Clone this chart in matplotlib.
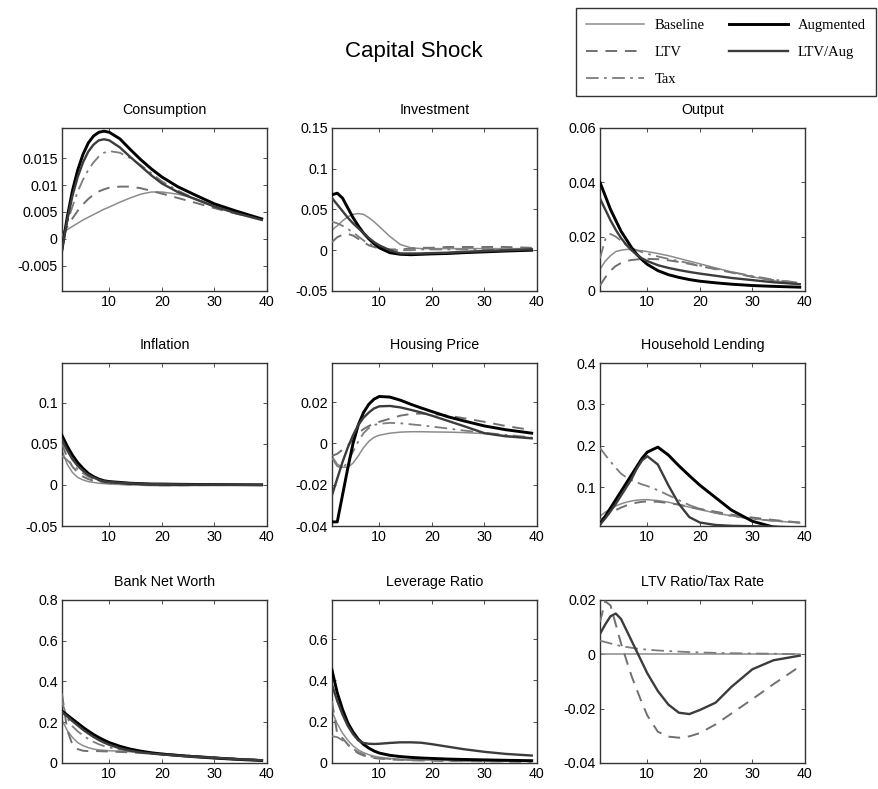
import matplotlib
matplotlib.use('Agg')
import matplotlib.pyplot as plt
from matplotlib.ticker import FuncFormatter

plt.rcParams['font.family'] = ['Liberation Sans', 'DejaVu Sans']
plt.rcParams['axes.unicode_minus'] = False

T = [1, 2, 3, 4, 5, 6, 7, 8, 9, 10, 12, 14, 16, 18, 20, 23, 26, 30, 34, 39]

# Consumption
cons_base = [0.0012, 0.0017, 0.0023, 0.0029, 0.0035, 0.0040, 0.0045, 0.0050, 0.0055, 0.0059, 0.0068, 0.0076, 0.0083, 0.0087, 0.0087, 0.0083, 0.0076, 0.0062, 0.0050, 0.0036]
cons_ltv = [0.0005, 0.0022, 0.0038, 0.0052, 0.0064, 0.0074, 0.0082, 0.0088, 0.0092, 0.0095, 0.0097, 0.0097, 0.0094, 0.0089, 0.0084, 0.0076, 0.0068, 0.0057, 0.0047, 0.0036]
cons_tax = [0.0000, 0.0030, 0.0060, 0.0088, 0.0110, 0.0128, 0.0142, 0.0153, 0.0160, 0.0163, 0.0160, 0.0150, 0.0137, 0.0122, 0.0107, 0.0090, 0.0076, 0.0060, 0.0048, 0.0036]
cons_aug = [-0.0020, 0.0040, 0.0090, 0.0128, 0.0157, 0.0178, 0.0191, 0.0198, 0.0200, 0.0198, 0.0186, 0.0166, 0.0147, 0.0130, 0.0115, 0.0097, 0.0083, 0.0065, 0.0052, 0.0037]
cons_ltvaug = [-0.0020, 0.0035, 0.0080, 0.0115, 0.0142, 0.0162, 0.0175, 0.0183, 0.0185, 0.0183, 0.0170, 0.0152, 0.0135, 0.0118, 0.0103, 0.0087, 0.0075, 0.0060, 0.0048, 0.0035]

# Investment
inv_base = [0.025, 0.030, 0.036, 0.041, 0.044, 0.045, 0.044, 0.040, 0.035, 0.029, 0.017, 0.007, 0.003, 0.002, 0.002, 0.002, 0.002, 0.002, 0.002, 0.002]
inv_ltv = [0.010, 0.016, 0.019, 0.020, 0.018, 0.014, 0.010, 0.006, 0.004, 0.002, 0.001, 0.001, 0.002, 0.003, 0.003, 0.004, 0.004, 0.004, 0.004, 0.003]
inv_tax = [0.035, 0.033, 0.030, 0.026, 0.022, 0.017, 0.012, 0.008, 0.005, 0.003, 0.001, 0.000, 0.000, 0.001, 0.001, 0.001, 0.001, 0.001, 0.001, 0.001]
inv_aug = [0.068, 0.070, 0.064, 0.052, 0.040, 0.030, 0.021, 0.014, 0.008, 0.003, -0.003, -0.005, -0.0055, -0.005, -0.0045, -0.004, -0.003, -0.002, -0.001, 0.000]
inv_ltvaug = [0.064, 0.056, 0.048, 0.040, 0.033, 0.027, 0.021, 0.015, 0.010, 0.006, 0.000, -0.004, -0.004, -0.004, -0.0035, -0.003, -0.002, -0.001, 0.000, 0.001]

# Output
out_base = [0.0080, 0.0110, 0.0130, 0.0145, 0.0150, 0.0153, 0.0153, 0.0150, 0.0148, 0.0145, 0.0138, 0.0130, 0.0120, 0.0110, 0.0100, 0.0085, 0.0070, 0.0052, 0.0038, 0.0026]
out_ltv = [0.0020, 0.0050, 0.0075, 0.0092, 0.0103, 0.0110, 0.0114, 0.0116, 0.0118, 0.0118, 0.0117, 0.0113, 0.0107, 0.0100, 0.0092, 0.0080, 0.0068, 0.0052, 0.0040, 0.0030]
out_tax = [0.0120, 0.0190, 0.0210, 0.0200, 0.0185, 0.0170, 0.0158, 0.0150, 0.0143, 0.0137, 0.0127, 0.0118, 0.0110, 0.0102, 0.0094, 0.0082, 0.0070, 0.0055, 0.0042, 0.0030]
out_aug = [0.0400, 0.0350, 0.0300, 0.0260, 0.0220, 0.0190, 0.0160, 0.0135, 0.0115, 0.0098, 0.0075, 0.0060, 0.0050, 0.0042, 0.0036, 0.0030, 0.0025, 0.0020, 0.0017, 0.0014]
out_ltvaug = [0.0340, 0.0300, 0.0260, 0.0225, 0.0195, 0.0170, 0.0150, 0.0133, 0.0120, 0.0110, 0.0095, 0.0085, 0.0077, 0.0070, 0.0064, 0.0056, 0.0048, 0.0040, 0.0032, 0.0025]

# Inflation
infl_base = [0.042, 0.025, 0.015, 0.009, 0.006, 0.004, 0.003, 0.002, 0.0015, 0.001, 0.0005, 0.0, -0.0005, -0.0008, -0.001, -0.001, -0.0008, -0.0006, -0.0004, -0.0002]
infl_ltv = [0.050, 0.033, 0.022, 0.015, 0.010, 0.007, 0.005, 0.0035, 0.0025, 0.002, 0.001, 0.0005, 0.0, -0.0003, -0.0005, -0.0005, -0.0004, -0.0003, -0.0002, -0.0001]
infl_tax = [0.035, 0.030, 0.024, 0.019, 0.014, 0.010, 0.007, 0.005, 0.0038, 0.003, 0.002, 0.0013, 0.0009, 0.0006, 0.0004, 0.0002, 0.0001, 0.0, 0.0, 0.0]
infl_aug = [0.060, 0.047, 0.036, 0.027, 0.020, 0.014, 0.010, 0.007, 0.005, 0.004, 0.003, 0.002, 0.0015, 0.001, 0.001, 0.0007, 0.0005, 0.0003, 0.0002, 0.0]
infl_ltvaug = [0.055, 0.042, 0.031, 0.023, 0.017, 0.012, 0.009, 0.006, 0.0045, 0.0035, 0.0025, 0.0018, 0.0013, 0.001, 0.0008, 0.0005, 0.0003, 0.0002, 0.0001, 0.0]

# Housing price
hp_base = [-0.006, -0.010, -0.0115, -0.0115, -0.0095, -0.006, -0.002, 0.001, 0.003, 0.004, 0.005, 0.0055, 0.0057, 0.0057, 0.0056, 0.0055, 0.0053, 0.0048, 0.0038, 0.0027]
hp_ltv = [-0.006, -0.005, -0.003, -0.001, 0.002, 0.005, 0.007, 0.0085, 0.0095, 0.0105, 0.012, 0.0135, 0.0143, 0.0145, 0.0143, 0.0135, 0.0123, 0.0105, 0.0085, 0.0065]
hp_tax = [-0.007, -0.011, -0.012, -0.009, -0.004, 0.001, 0.005, 0.0075, 0.009, 0.0095, 0.010, 0.0098, 0.0093, 0.0088, 0.0082, 0.0073, 0.0063, 0.0052, 0.0042, 0.0030]
hp_aug = [-0.038, -0.038, -0.025, -0.012, 0.000, 0.009, 0.015, 0.019, 0.0215, 0.0228, 0.0225, 0.021, 0.019, 0.0172, 0.0155, 0.013, 0.011, 0.0085, 0.0067, 0.0050]
hp_ltvaug = [-0.025, -0.017, -0.009, -0.002, 0.004, 0.009, 0.0125, 0.015, 0.017, 0.018, 0.0182, 0.0175, 0.0163, 0.015, 0.0135, 0.011, 0.0085, 0.0050, 0.0035, 0.0025]

# Household lending
hl_base = [0.030, 0.040, 0.048, 0.055, 0.060, 0.064, 0.067, 0.069, 0.070, 0.070, 0.068, 0.064, 0.058, 0.052, 0.046, 0.038, 0.031, 0.024, 0.019, 0.014]
hl_ltv = [0.020, 0.030, 0.038, 0.045, 0.051, 0.056, 0.060, 0.063, 0.065, 0.066, 0.065, 0.062, 0.058, 0.053, 0.048, 0.041, 0.034, 0.027, 0.021, 0.015]
hl_tax = [0.195, 0.178, 0.162, 0.147, 0.133, 0.124, 0.117, 0.112, 0.107, 0.103, 0.093, 0.081, 0.069, 0.057, 0.048, 0.038, 0.031, 0.024, 0.019, 0.015]
hl_aug = [0.012, 0.030, 0.050, 0.070, 0.090, 0.110, 0.130, 0.150, 0.170, 0.185, 0.197, 0.178, 0.152, 0.128, 0.105, 0.075, 0.045, 0.018, 0.004, 0.000]
hl_ltvaug = [0.010, 0.025, 0.042, 0.060, 0.080, 0.100, 0.120, 0.145, 0.165, 0.175, 0.155, 0.105, 0.060, 0.028, 0.015, 0.009, 0.007, 0.006, 0.005, 0.003]

# Bank net worth
bnw_base = [0.21, 0.16, 0.125, 0.10, 0.085, 0.075, 0.068, 0.064, 0.062, 0.060, 0.058, 0.055, 0.052, 0.049, 0.046, 0.040, 0.035, 0.028, 0.021, 0.014]
bnw_ltv = [0.34, 0.16, 0.09, 0.068, 0.060, 0.058, 0.058, 0.058, 0.057, 0.056, 0.054, 0.052, 0.049, 0.046, 0.043, 0.038, 0.033, 0.027, 0.021, 0.014]
bnw_tax = [0.30, 0.22, 0.18, 0.155, 0.135, 0.118, 0.104, 0.092, 0.083, 0.076, 0.066, 0.060, 0.055, 0.050, 0.046, 0.040, 0.035, 0.028, 0.021, 0.014]
bnw_aug = [0.255, 0.235, 0.215, 0.195, 0.175, 0.157, 0.140, 0.125, 0.112, 0.100, 0.082, 0.068, 0.058, 0.050, 0.044, 0.037, 0.031, 0.024, 0.018, 0.012]
bnw_ltvaug = [0.250, 0.228, 0.205, 0.184, 0.163, 0.145, 0.128, 0.113, 0.100, 0.089, 0.072, 0.060, 0.052, 0.046, 0.042, 0.036, 0.031, 0.025, 0.019, 0.013]

# Leverage ratio
lev_base = [0.25, 0.19, 0.145, 0.11, 0.083, 0.063, 0.050, 0.040, 0.033, 0.028, 0.022, 0.018, 0.016, 0.014, 0.013, 0.012, 0.011, 0.010, 0.009, 0.008]
lev_ltv = [0.30, 0.14, 0.12, 0.09, 0.065, 0.047, 0.036, 0.029, 0.024, 0.021, 0.017, 0.015, 0.013, 0.012, 0.011, 0.010, 0.009, 0.008, 0.007, 0.006]
lev_tax = [0.13, 0.125, 0.11, 0.088, 0.068, 0.053, 0.042, 0.034, 0.028, 0.024, 0.019, 0.016, 0.014, 0.013, 0.012, 0.011, 0.010, 0.009, 0.008, 0.007]
lev_aug = [0.45, 0.34, 0.26, 0.195, 0.15, 0.115, 0.090, 0.072, 0.058, 0.048, 0.037, 0.031, 0.027, 0.024, 0.022, 0.019, 0.017, 0.015, 0.013, 0.011]
lev_ltvaug = [0.38, 0.30, 0.235, 0.18, 0.14, 0.11, 0.097, 0.093, 0.092, 0.093, 0.097, 0.100, 0.100, 0.098, 0.091, 0.079, 0.067, 0.054, 0.044, 0.036]

# LTV ratio / tax rate (no Augmented line in this panel)
lr_base = [0.0, 0.0, 0.0, 0.0, 0.0, 0.0, 0.0, 0.0, 0.0, 0.0, 0.0, 0.0, 0.0, 0.0, 0.0, 0.0, 0.0, 0.0, 0.0, 0.0]
lr_ltv = [0.012, 0.0195, 0.018, 0.011, 0.004, -0.002, -0.008, -0.013, -0.018, -0.0225, -0.0285, -0.0303, -0.0307, -0.0302, -0.029, -0.0258, -0.0218, -0.0165, -0.011, -0.0045]
lr_tax = [0.005, 0.0045, 0.004, 0.0035, 0.003, 0.0027, 0.0024, 0.0021, 0.0019, 0.0017, 0.0014, 0.0012, 0.001, 0.0008, 0.0007, 0.0005, 0.0004, 0.0003, 0.0002, 0.0]
lr_aug = None
lr_ltvaug = [0.0075, 0.011, 0.014, 0.015, 0.013, 0.009, 0.005, 0.001, -0.003, -0.007, -0.0135, -0.0185, -0.0215, -0.022, -0.0205, -0.0178, -0.012, -0.0055, -0.0022, -0.0005]

titles = ['Consumption', 'Investment', 'Output',
          'Inflation', 'Housing Price', 'Household Lending',
          'Bank Net Worth', 'Leverage Ratio', 'LTV Ratio/Tax Rate']
panels = [
    (cons_base, cons_ltv, cons_tax, cons_aug, cons_ltvaug),
    (inv_base, inv_ltv, inv_tax, inv_aug, inv_ltvaug),
    (out_base, out_ltv, out_tax, out_aug, out_ltvaug),
    (infl_base, infl_ltv, infl_tax, infl_aug, infl_ltvaug),
    (hp_base, hp_ltv, hp_tax, hp_aug, hp_ltvaug),
    (hl_base, hl_ltv, hl_tax, hl_aug, hl_ltvaug),
    (bnw_base, bnw_ltv, bnw_tax, bnw_aug, bnw_ltvaug),
    (lev_base, lev_ltv, lev_tax, lev_aug, lev_ltvaug),
    (lr_base, lr_ltv, lr_tax, lr_aug, lr_ltvaug),
]
ylims = [(-0.0097, 0.0206), (-0.05, 0.15), (0, 0.06),
         (-0.05, 0.148), (-0.04, 0.039), (0.0065, 0.4),
         (0, 0.8), (0, 0.79), (-0.04, 0.02)]
yticks = [[-0.005, 0, 0.005, 0.01, 0.015], [-0.05, 0, 0.05, 0.1, 0.15], [0, 0.02, 0.04, 0.06],
          [-0.05, 0, 0.05, 0.1], [-0.04, -0.02, 0, 0.02], [0.1, 0.2, 0.3, 0.4],
          [0, 0.2, 0.4, 0.6, 0.8], [0, 0.2, 0.4, 0.6], [-0.04, -0.02, 0, 0.02]]

names = ['Baseline', 'LTV', 'Tax', 'Augmented', 'LTV/Aug']
styles = [
    dict(color='#8c8c8c', lw=1.1, ls='-'),
    dict(color='#707070', lw=1.4, ls=(0, (6, 4))),
    dict(color='#7c7c7c', lw=1.3, ls=(0, (7, 3, 1.5, 3))),
    dict(color='black', lw=2.1, ls='-'),
    dict(color='#3c3c3c', lw=1.7, ls='-'),
]

fig = plt.figure(figsize=(8.79, 7.89), dpi=100)
lefts = [0.0705, 0.3777, 0.6826]
bottoms = [0.6312, 0.3333, 0.033]
w, h = 0.2332, 0.2066

handles = []
for k in range(9):
    ax = fig.add_axes([lefts[k % 3], bottoms[k // 3], w, h])
    for j, series in enumerate(panels[k]):
        if series is None:
            continue
        ln, = ax.plot(T, series, zorder=2 + j, **styles[j])
        if k == 0:
            handles.append(ln)
    ax.set_xlim(1, 40)
    ax.set_ylim(*ylims[k])
    ax.set_xticks([10, 20, 30, 40])
    ax.set_yticks(yticks[k])
    ax.yaxis.set_major_formatter(FuncFormatter(lambda v, p: '{:g}'.format(round(v, 6))))
    ax.tick_params(direction='in', top=True, right=True, length=3, width=0.6,
                   labelsize=10.3, pad=3, colors='#333333', labelcolor='black')
    for s in ax.spines.values():
        s.set_linewidth(1.0)
        s.set_color('#333333')
    ax.set_title(titles[k], fontsize=10.3, pad=10)

fig.text(0.471, 0.935, 'Capital Shock', ha='center', va='center', fontsize=16)

leg = fig.legend(handles, names, loc='upper right', bbox_to_anchor=(1.0, 0.993),
                 ncol=2, frameon=True, fancybox=False, handlelength=4.0,
                 handletextpad=0.7, labelspacing=0.95, columnspacing=1.7,
                 borderpad=0.7, borderaxespad=0.2,
                 prop={'family': 'Liberation Serif', 'size': 10.5})
leg.get_frame().set_edgecolor('black')
leg.get_frame().set_linewidth(1.0)

fig.savefig('out.png', dpi=100)
